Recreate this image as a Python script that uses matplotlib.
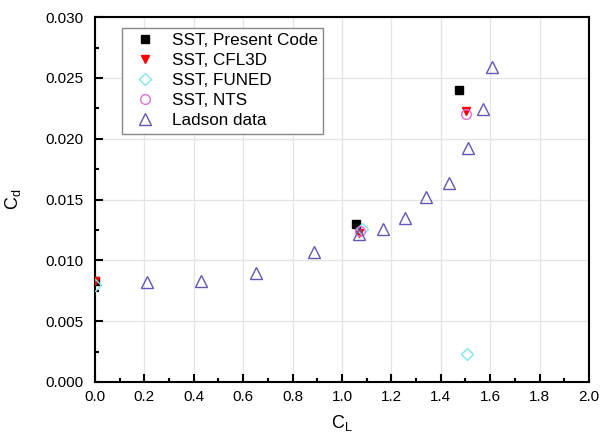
import matplotlib
matplotlib.use("Agg")
import matplotlib.pyplot as plt
from matplotlib.ticker import MultipleLocator, FormatStrFormatter

# Drag polar data (CL, Cd)
present_cl = [0.0, 1.057, 1.475]
present_cd = [0.0083, 0.0130, 0.0240]

cfl3d_cl = [0.0, 1.07, 1.502]
cfl3d_cd = [0.0083, 0.01225, 0.0223]

funed_cl = [0.0, 1.082, 1.507]
funed_cd = [0.0080, 0.0126, 0.0023]

nts_cl = [1.075, 1.504]
nts_cd = [0.0124, 0.0220]

ladson_cl = [0.209, 0.43, 0.65, 0.885, 1.068, 1.166, 1.257, 1.341, 1.434, 1.511, 1.570, 1.608]
ladson_cd = [0.00825, 0.00833, 0.00899, 0.01067, 0.01215, 0.01256, 0.01351, 0.01524,
             0.01639, 0.01922, 0.02243, 0.02593]

plt.rcParams['font.family'] = ['Liberation Sans', 'DejaVu Sans']

fig = plt.figure(figsize=(6.01, 4.40), dpi=100)
ax = fig.add_axes([0.158, 0.132, 0.822, 0.829])

ax.grid(True, color='#e4e4e4', linewidth=0.9, zorder=0)
ax.set_axisbelow(True)

ax.plot(present_cl, present_cd, 's', color='black', markersize=6, linestyle='none',
        label='SST, Present Code', zorder=3)
ax.plot(cfl3d_cl, cfl3d_cd, 'v', color='red', markersize=6, linestyle='none',
        label='SST, CFL3D', zorder=3)
ax.plot(funed_cl, funed_cd, 'D', markerfacecolor='none', markeredgecolor='#7fe6ea',
        markersize=6, markeredgewidth=1.0, linestyle='none',
        label='SST, FUNED', zorder=3)
ax.plot(nts_cl, nts_cd, 'o', markerfacecolor='none', markeredgecolor='#e070d8',
        markersize=7, markeredgewidth=1.0, linestyle='none',
        label='SST, NTS', zorder=3)
ax.plot(ladson_cl, ladson_cd, '^', markerfacecolor='none', markeredgecolor='#6258b4',
        markersize=8, markeredgewidth=1.0, linestyle='none',
        label='Ladson data', zorder=3)

ax.set_xlim(0.0, 2.0)
ax.set_ylim(0.0, 0.030)
ax.xaxis.set_major_locator(MultipleLocator(0.2))
ax.xaxis.set_minor_locator(MultipleLocator(0.1))
ax.yaxis.set_major_locator(MultipleLocator(0.005))
ax.yaxis.set_minor_locator(MultipleLocator(0.0025))
ax.xaxis.set_major_formatter(FormatStrFormatter('%.1f'))
ax.yaxis.set_major_formatter(FormatStrFormatter('%.3f'))

ax.tick_params(which='both', direction='in', top=False, right=False, labelsize=11,
               width=1.5, colors='black')
ax.tick_params(which='major', length=6)
ax.tick_params(which='minor', length=3)
ax.tick_params(axis='y', which='major', pad=8)
ax.tick_params(axis='x', which='major', pad=6)
for s in ax.spines.values():
    s.set_linewidth(1.5)

ax.set_xlabel(r'C$_\mathregular{L}$', fontsize=13, labelpad=6)
ax.set_ylabel(r'C$_\mathregular{d}$', fontsize=13, labelpad=16)

leg = ax.legend(loc='upper left', bbox_to_anchor=(0.045, 0.985), fontsize=12.3,
                frameon=True, fancybox=False, edgecolor='#888888', framealpha=1,
                borderpad=0.3, labelspacing=0.3, handletextpad=0.6,
                handlelength=2.0, borderaxespad=0.3)
leg.get_frame().set_linewidth(1.0)

fig.savefig('out.png', dpi=100)
